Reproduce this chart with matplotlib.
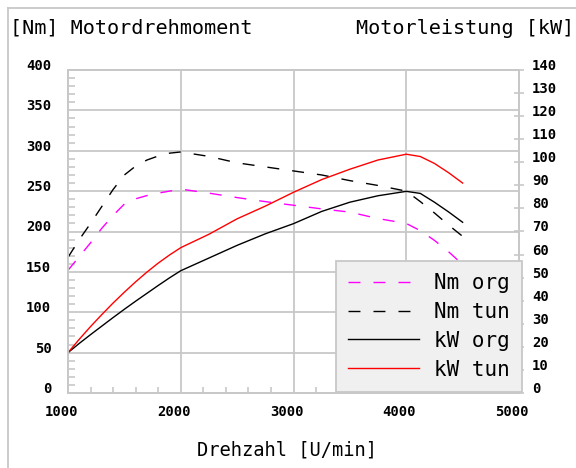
import matplotlib
matplotlib.use("Agg")
import matplotlib.pyplot as plt
from matplotlib.font_manager import FontProperties
from matplotlib.lines import Line2D
from matplotlib.ticker import MultipleLocator
from matplotlib.transforms import ScaledTranslation

# engine speed [U/min]
rpm = [1000, 1100, 1200, 1300, 1400, 1500, 1600, 1700, 1800, 1900, 2000,
       2250, 2500, 2750, 3000, 3250, 3500, 3750, 4000, 4125, 4250, 4375, 4500]
# torque [Nm]
nm_org = [152, 169, 186, 204, 220, 234, 240.5, 244.5, 247.5, 250, 252.5,
          247.5, 242, 237, 232.5, 228, 224, 216, 210, 201, 189, 175, 159]
nm_tun = [168, 190, 210, 231, 252, 270, 281, 288.5, 293.5, 297, 298.5,
          293, 285, 280, 275, 270, 263, 257, 250, 237, 223, 208, 194]
# power [kW]
kw_org = [17.5, 21.5, 25.3, 29, 32.7, 36.3, 39.8, 43.2, 46.6, 49.9, 53,
          58.5, 64, 69, 73.4, 78.7, 82.7, 85.5, 87.4, 86.5, 82.7, 78.5, 74]
kw_tun = [17.5, 23.3, 28.8, 34, 39, 43.7, 48.2, 52.4, 56.3, 59.8, 63,
          68.8, 75.5, 81, 87, 92.5, 97, 101, 103.5, 102.5, 99.5, 95.5, 91]

labels = ["Nm org", "Nm tun", "kW org", "kW tun"]

GRID = "#c8c8c8"
MONO = "DejaVu Sans Mono"

fig = plt.figure(figsize=(5.76, 4.68), dpi=100)
ax = fig.add_axes([68 / 576, 1 - 393 / 468, 451 / 576, 323 / 468])
ax2 = ax.twinx()

dash = (0, (8.6, 9.4))
l1, = ax.plot(rpm, nm_org, color="#ff00ff", lw=1.0, ls=dash)
l2, = ax.plot(rpm, nm_tun, color="black", lw=1.0, ls=dash)
l3, = ax2.plot(rpm, kw_org, color="black", lw=1.0)
l4, = ax2.plot(rpm, kw_tun, color="#ff0000", lw=1.0)

ax.set_xlim(1000, 5000)
ax.set_ylim(0, 400)
ax2.set_ylim(0, 140)

ax.set_xticks([1000, 2000, 3000, 4000, 5000])
ax.set_yticks(range(0, 401, 50))
ax.xaxis.set_minor_locator(MultipleLocator(200))
ax.yaxis.set_minor_locator(MultipleLocator(10))
ax2.set_yticks(range(0, 141, 10))

ax.grid(True, color=GRID, lw=1.3)
ax.set_axisbelow(True)
for a in (ax, ax2):
    for s in a.spines.values():
        s.set_color(GRID)
        s.set_linewidth(1.3)

ax.tick_params(axis="x", which="major", length=0, pad=9)
ax.tick_params(axis="x", which="minor", direction="in", length=4, color=GRID, width=1.2)
ax.tick_params(axis="y", which="major", length=0, pad=12)
ax.tick_params(axis="y", which="minor", direction="in", length=5, color=GRID, width=1.2)
ax2.tick_params(axis="y", direction="inout", length=7, color=GRID, width=1.2, pad=6)

tickfont = FontProperties(family=MONO, size=10, weight="bold")
for lab in ax.get_xticklabels() + ax.get_yticklabels() + ax2.get_yticklabels():
    lab.set_fontproperties(tickfont)
up = ScaledTranslation(0, 4 / 72, fig.dpi_scale_trans)
left = ScaledTranslation(-5 / 72, 0, fig.dpi_scale_trans)
for lab in ax.get_yticklabels() + ax2.get_yticklabels():
    lab.set_transform(lab.get_transform() + up)
for lab in ax.get_xticklabels():
    lab.set_transform(lab.get_transform() + left)

leg = ax2.legend([l1, l2, l3, l4], labels, loc="lower right",
                 bbox_to_anchor=(1.007, 0.003), borderaxespad=0,
                 prop=dict(family=MONO, size=15), frameon=True, fancybox=False,
                 framealpha=1, facecolor="#f0f0f0", edgecolor=GRID,
                 handlelength=3.4, handletextpad=0.7, labelspacing=0.42,
                 borderpad=0.6)
leg.get_frame().set_linewidth(1.3)

fig.text(10 / 576, 1 - 28 / 468, "[Nm] Motordrehmoment", family=MONO, size=14.5,
         ha="left", va="center")
fig.text(574 / 576, 1 - 28 / 468, "Motorleistung [kW]", family=MONO, size=14.5,
         ha="right", va="center")
fig.text(287 / 576, 1 - 450 / 468, "Drehzahl [U/min]", family=MONO, size=13.5,
         ha="center", va="center")

# outer frame of the original widget
fig.add_artist(Line2D([8 / 576, 8 / 576], [0, 1 - 8 / 468], color=GRID, lw=1.3))
fig.add_artist(Line2D([8 / 576, 1], [1 - 8 / 468, 1 - 8 / 468], color=GRID, lw=1.3))

fig.savefig("out.png", dpi=100)
